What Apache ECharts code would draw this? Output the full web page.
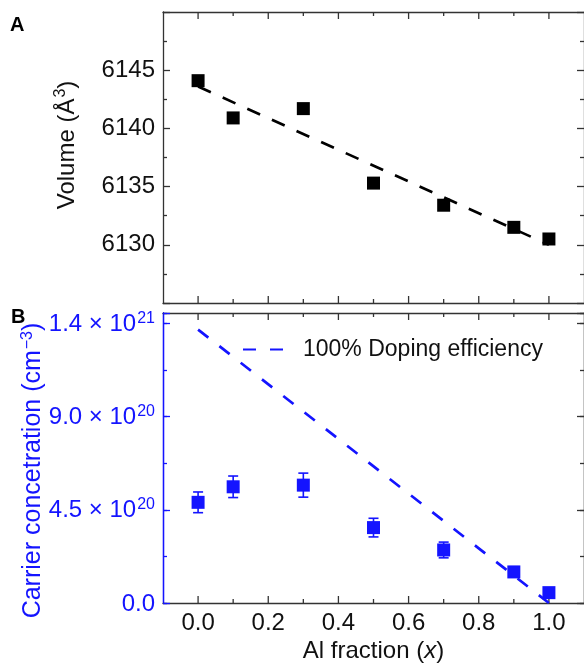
<!DOCTYPE html>
<html>
<head>
<meta charset="utf-8">
<script src="https://cdn.jsdelivr.net/npm/echarts@6/dist/echarts.min.js"></script>
<style>
  html, body { margin: 0; padding: 0; background: #fff; }
  #chart { width: 584px; height: 664px; }
</style>
</head>
<body>
<div id="chart"></div>
<script>
// Al fraction axis positions, -0.1 .. 1.1 in steps of 0.1
const xCategories = ['-0.1', '0.0', '0.1', '0.2', '0.3', '0.4', '0.5', '0.6',
                     '0.7', '0.8', '0.9', '1.0', '1.1'];
// Al fraction of each sample
const alFraction = ['0.0', '0.1', '0.3', '0.5', '0.7', '0.9', '1.0'];
// Unit-cell volume (Å^3)
const volume = [6144.1, 6140.9, 6141.7, 6135.3, 6133.4, 6131.5, 6130.5];
// Linear fit of the volume, end points
const volumeFit = [['0.0', 6143.6], ['1.0', 6130.0]];
// Carrier concentration (10^20 cm^-3) and its uncertainty
const carrier = [4.86, 5.61, 5.69, 3.64, 2.56, 1.50, 0.50];
const carrierErr = [0.50, 0.52, 0.58, 0.45, 0.38, 0.25, 0.15];
// 100% doping efficiency reference line (10^20 cm^-3)
const dopingLine = [['0.0', 13.2], ['1.0', 0.0]];

// x tick positions
const xMajorTicks = ['0.0', '0.2', '0.4', '0.6', '0.8', '1.0'];
const xMinorTicks = ['0.1', '0.3', '0.5', '0.7', '0.9'];
// Carrier axis tick labels (values in 10^20 cm^-3)
const carrierTickLabels = {
  0: '{b|0.0}',
  4.5: '{b|4.5 × 10}{s|20}',
  9: '{b|9.0 × 10}{s|20}',
  13.5: '{b|1.4 × 10}{s|21}'
};

const FONT = '"Liberation Sans", Arial, sans-serif';
const BLUE = '#1414ff';
const FRAME = '#333333';
const LINE_W = 1.3;

const VOL_MIN = 6125, VOL_MAX = 6150;
const CAR_MIN = 0, CAR_MAX = 14;

const isMajor = (i) => i % 2 === 1;

function xAxisDef(gridIndex, position, extra) {
  return Object.assign({
    type: 'category', data: xCategories, boundaryGap: false,
    gridIndex, position,
    axisLine: { show: true, onZero: false, lineStyle: { color: FRAME, width: LINE_W } },
    axisTick: { show: false },
    axisLabel: { show: false },
    splitLine: { show: false }
  }, extra || {});
}

function supRich(color, size) {
  return {
    b: { fontSize: size, fontFamily: FONT, color, verticalAlign: 'bottom', lineHeight: 26 },
    s: { fontSize: 16, fontFamily: FONT, color, verticalAlign: 'top', lineHeight: 26, padding: [0, 0, 8, 1] }
  };
}

const xAxes = [
  xAxisDef(0, 'bottom'),
  xAxisDef(0, 'top'),
  xAxisDef(1, 'bottom', {
    axisLabel: {
      show: true, interval: isMajor, margin: 8,
      fontSize: 24, fontFamily: FONT, color: '#111'
    },
    name: '{n|Al fraction (}{i|x}{n|)}',
    nameLocation: 'middle', nameGap: 36,
    nameTextStyle: {
      rich: {
        n: { fontSize: 24, fontFamily: FONT, color: '#111' },
        i: { fontSize: 24, fontFamily: FONT, color: '#111', fontStyle: 'italic' }
      }
    }
  }),
  xAxisDef(1, 'top')
];

function yLine(color, show) {
  return { show, onZero: false, lineStyle: { color, width: LINE_W } };
}
function yTick(color, len) {
  return { show: true, inside: true, length: len, lineStyle: { color, width: LINE_W } };
}

const yAxes = [
  {
    type: 'value', gridIndex: 0, position: 'left', min: VOL_MIN, max: VOL_MAX, interval: 5,
    axisLine: yLine(FRAME, true),
    axisTick: yTick(FRAME, 7),
    minorTick: { show: true, splitNumber: 2, length: 4, lineStyle: { color: FRAME, width: LINE_W } },
    axisLabel: {
      show: true, margin: 8, fontSize: 24, fontFamily: FONT, color: '#111',
      formatter: (v) => (v === VOL_MIN || v === VOL_MAX) ? '' : String(v)
    },
    splitLine: { show: false },
    name: '{b|Volume (Å}{s|3}{b|)}',
    nameLocation: 'middle', nameGap: 84,
    nameTextStyle: { padding: [0, 0, 0, 25], rich: supRich('#111', 24) }
  },
  {
    type: 'value', gridIndex: 0, position: 'right', min: VOL_MIN, max: VOL_MAX, interval: 5,
    axisLine: yLine(FRAME, true),
    axisTick: yTick(FRAME, 7),
    minorTick: { show: true, splitNumber: 2, length: 4, lineStyle: { color: FRAME, width: LINE_W } },
    axisLabel: { show: false }, splitLine: { show: false }
  },
  // carrier axis: minor ticks every 2.25
  {
    type: 'value', gridIndex: 1, position: 'left', min: CAR_MIN, max: CAR_MAX, interval: 2.25,
    axisLine: yLine(BLUE, true),
    axisTick: yTick(BLUE, 4),
    axisLabel: { show: false }, splitLine: { show: false }
  },
  // carrier axis: major ticks and labels every 4.5
  {
    type: 'value', gridIndex: 1, position: 'left', min: CAR_MIN, max: CAR_MAX, interval: 4.5,
    axisLine: yLine(BLUE, true),
    axisTick: yTick(BLUE, 7),
    axisLabel: {
      show: true, margin: 8,
      formatter: (v) => carrierTickLabels[v] || '',
      rich: supRich(BLUE, 24)
    },
    splitLine: { show: false },
    name: '{b|Carrier concetration (cm}{s|−3}{b|)}',
    nameLocation: 'middle', nameGap: 117, nameMoveOverlap: false,
    nameTextStyle: { padding: [0, 25, 0, 0], rich: supRich(BLUE, 25) }
  },
  {
    type: 'value', gridIndex: 1, position: 'right', min: CAR_MIN, max: CAR_MAX, interval: 2.25,
    axisLine: yLine(FRAME, true),
    axisTick: yTick(FRAME, 4),
    axisLabel: { show: false }, splitLine: { show: false }
  },
  {
    type: 'value', gridIndex: 1, position: 'right', min: CAR_MIN, max: CAR_MAX, interval: 4.5,
    axisLine: yLine(FRAME, true),
    axisTick: yTick(FRAME, 7),
    axisLabel: { show: false }, splitLine: { show: false }
  }
];

const volumeData = alFraction.map((x, i) => [x, volume[i]]);
const carrierData = alFraction.map((x, i) => [x, carrier[i]]);
const carrierErrData = alFraction.map((x, i) => [x, carrier[i] - carrierErr[i], carrier[i] + carrierErr[i]]);

function renderErrorBar(params, api) {
  const x = api.value(0);
  const top = api.coord([x, api.value(2)]);
  const bot = api.coord([x, api.value(1)]);
  const cap = 5;
  const style = { stroke: BLUE, lineWidth: 1.6, fill: null };
  return {
    type: 'group',
    children: [
      { type: 'line', shape: { x1: top[0], y1: top[1], x2: bot[0], y2: bot[1] }, style },
      { type: 'line', shape: { x1: top[0] - cap, y1: top[1], x2: top[0] + cap, y2: top[1] }, style },
      { type: 'line', shape: { x1: bot[0] - cap, y1: bot[1], x2: bot[0] + cap, y2: bot[1] }, style }
    ]
  };
}

// Inward x ticks drawn as thin bars sitting on the frame edge (yEdge), pointing into the panel
function xTickSeries(xAxisIndex, yAxisIndex, yEdge, ticks, len, fromTop) {
  return {
    type: 'scatter', xAxisIndex, yAxisIndex, silent: true, clip: false, z: 1,
    data: ticks.map((t) => [t, yEdge]),
    symbol: 'rect', symbolSize: [LINE_W, len],
    symbolOffset: [0, fromTop ? len / 2 : -len / 2],
    itemStyle: { color: FRAME, opacity: 1 },
    emphasis: { disabled: true }
  };
}

const chart = echarts.init(document.getElementById('chart'), null, { renderer: 'canvas' });
chart.setOption({
  backgroundColor: '#ffffff',
  animation: false,
  grid: [
    { left: 163, top: 12, width: 422, height: 291 },
    { left: 163, top: 313, width: 422, height: 292 }
  ],
  xAxis: xAxes,
  yAxis: yAxes,
  legend: {
    data: ['100% Doping efficiency'],
    left: 237, top: 333,
    itemWidth: 41, itemHeight: 20,
    itemStyle: { opacity: 0 },
    textStyle: { fontSize: 23, fontFamily: FONT, color: '#111', padding: [0, 0, 0, 14] },
    selectedMode: false
  },
  graphic: [
    { type: 'text', left: 10, top: 15, style: { text: 'A', font: 'bold 20px ' + FONT, fill: '#000' } },
    { type: 'text', left: 11, top: 307, style: { text: 'B', font: 'bold 20px ' + FONT, fill: '#000' } }
  ],
  series: [
    xTickSeries(0, 0, VOL_MIN, xMajorTicks, 7, false),
    xTickSeries(0, 0, VOL_MIN, xMinorTicks, 4, false),
    xTickSeries(0, 0, VOL_MAX, xMajorTicks, 7, true),
    xTickSeries(0, 0, VOL_MAX, xMinorTicks, 4, true),
    xTickSeries(2, 3, CAR_MIN, xMajorTicks, 7, false),
    xTickSeries(2, 3, CAR_MIN, xMinorTicks, 4, false),
    xTickSeries(2, 3, CAR_MAX, xMajorTicks, 7, true),
    xTickSeries(2, 3, CAR_MAX, xMinorTicks, 4, true),
    {
      name: 'Volume fit', type: 'line', xAxisIndex: 0, yAxisIndex: 0,
      data: volumeFit, symbol: 'none',
      lineStyle: { color: '#000', width: 2.7, type: [14, 13] }, z: 3
    },
    {
      name: 'Volume', type: 'scatter', xAxisIndex: 0, yAxisIndex: 0,
      data: volumeData, symbol: 'rect', symbolSize: 13,
      itemStyle: { color: '#000', opacity: 1 }, z: 2
    },
    {
      name: '100% Doping efficiency', type: 'line', xAxisIndex: 2, yAxisIndex: 3,
      data: dopingLine, symbol: 'none',
      itemStyle: { color: BLUE },
      lineStyle: { color: BLUE, width: 2.7, type: [13, 14] }, z: 3
    },
    {
      name: 'Carrier error', type: 'custom', xAxisIndex: 2, yAxisIndex: 3,
      data: carrierErrData, renderItem: renderErrorBar, z: 2
    },
    {
      name: 'Carrier', type: 'scatter', xAxisIndex: 2, yAxisIndex: 3,
      data: carrierData, symbol: 'rect', symbolSize: 13,
      itemStyle: { color: BLUE, opacity: 1 }, z: 2
    }
  ]
});
</script>
</body>
</html>
